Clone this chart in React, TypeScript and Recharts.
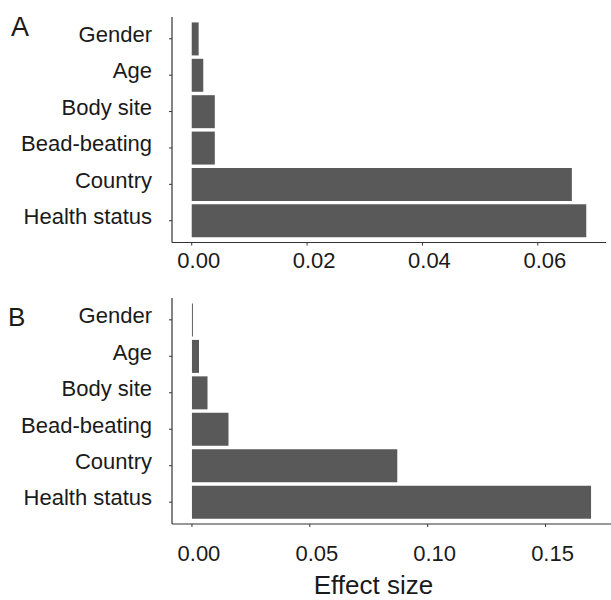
import { BarChart, Bar, XAxis, YAxis } from 'recharts';

const categories = ['Gender', 'Age', 'Body site', 'Bead-beating', 'Country', 'Health status'];
const effectA = [0.0012, 0.002, 0.004, 0.004, 0.0659, 0.0684];
const effectB = [0.0004, 0.003, 0.0066, 0.0155, 0.0871, 0.1693];
const ticksA = [0, 0.02, 0.04, 0.06];
const ticksB = [0, 0.05, 0.1, 0.15];

const FONT = '"Liberation Sans", Arial, Helvetica, sans-serif';
const TEXT = '#1a1a1a';
const AXIS = '#333333';
const BAR = '#595959';

// ggplot-style 5% expansion on both sides of the data range
function expanded(values: number[]): [number, number] {
  const max = Math.max(...values);
  return [-max * 0.05, max * 1.05];
}

function Panel({ values, ticks, height, margin, xHeight, xTickMargin, showTitle }: any) {
  const data = categories.map((name, i) => ({ name, value: values[i] }));
  return (
    <BarChart
      width={611}
      height={height}
      data={data}
      layout="vertical"
      margin={margin}
      barCategoryGap="5%"
    >
      <XAxis
        type="number"
        domain={expanded(values)}
        allowDataOverflow
        ticks={ticks}
        tickFormatter={(v: number) => v.toFixed(2)}
        height={xHeight}
        tickSize={3}
        tickMargin={xTickMargin}
        axisLine={{ stroke: AXIS, strokeWidth: 1.2 }}
        tickLine={{ stroke: AXIS }}
        tick={{ fontSize: 22, fill: TEXT, dx: 7 }}
        label={
          showTitle
            ? { value: 'Effect size', position: 'insideBottom', offset: 6, dx: -18, fontSize: 26, fill: TEXT }
            : undefined
        }
      />
      <YAxis
        type="category"
        dataKey="name"
        width={172}
        interval={0}
        tickSize={3}
        tickMargin={17}
        padding={{ top: 3.6, bottom: 3.6 }}
        axisLine={{ stroke: AXIS, strokeWidth: 1.2 }}
        tickLine={{ stroke: AXIS }}
        tick={{ fontSize: 22, fill: TEXT, dy: -4.5 }}
      />
      <Bar dataKey="value" fill={BAR} isAnimationActive={false} />
    </BarChart>
  );
}

export default function App() {
  return (
    <div style={{ position: 'absolute', left: 0, top: 0, width: 611, height: 600, background: '#fff', fontFamily: FONT }}>
      <div style={{ position: 'absolute', left: 0, top: 0 }}>
        <Panel
          values={effectA}
          ticks={ticksA}
          height={290}
          margin={{ top: 17, right: 5, bottom: 0, left: 0 }}
          xHeight={47.5}
          xTickMargin={7}
          showTitle={false}
        />
      </div>
      <div style={{ position: 'absolute', left: 0, top: 290 }}>
        <Panel
          values={effectB}
          ticks={ticksB}
          height={310}
          margin={{ top: 8, right: 0, bottom: 0, left: 0 }}
          xHeight={76}
          xTickMargin={18}
          showTitle={true}
        />
      </div>
      <svg width={611} height={600} style={{ position: 'absolute', left: 0, top: 0, pointerEvents: 'none' }}>
        <text x={11} y={36} fontSize={27} fill={TEXT} fontFamily={FONT}>A</text>
        <text x={8} y={326} fontSize={26} fill={TEXT} fontFamily={FONT}>B</text>
      </svg>
    </div>
  );
}
